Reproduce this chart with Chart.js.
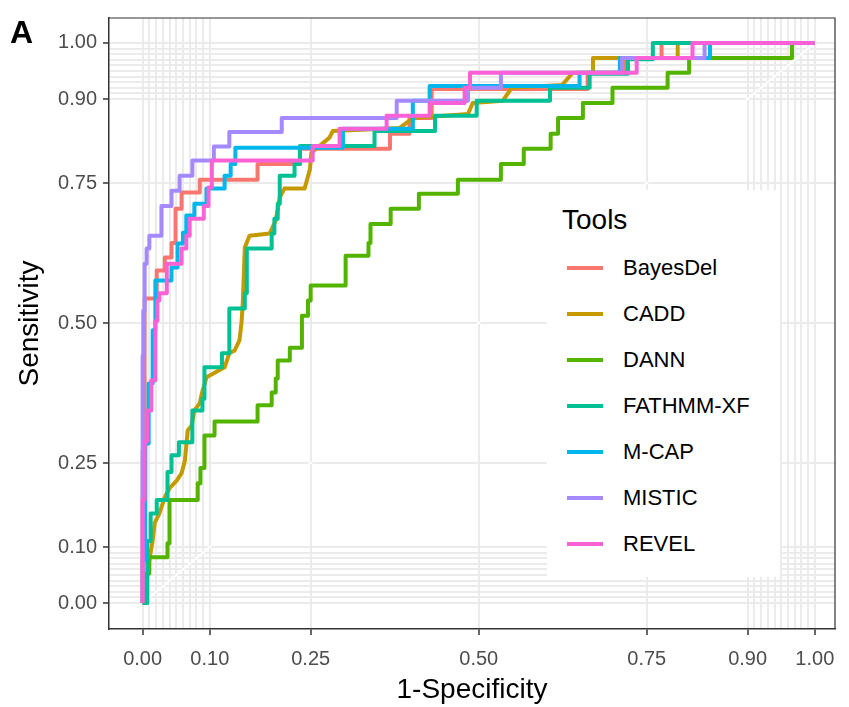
<!DOCTYPE html>
<html>
<head>
<meta charset="utf-8">
<script src="https://cdn.jsdelivr.net/npm/chart.js@4.4.1/dist/chart.umd.min.js"></script>
<style>
  body { margin: 0; background: #fff; }
  #wrap { position: relative; width: 849px; height: 707px; font-family: 'Liberation Sans', Arial, sans-serif; }
  #tag { position: absolute; left: 10px; top: 16px; font-size: 32px; font-weight: bold; line-height: 1; color: #000; }
  #legend { position: absolute; left: 547px; top: 190px; width: 233px; height: 387px; background: #fff; }
  #legend .title { position: absolute; left: 15px; top: 16px; font-size: 28px; line-height: 1; color: #000; }
  #legend .item { position: absolute; left: 20px; height: 46px; display: flex; align-items: center; }
  #legend .key { width: 36px; height: 4px; margin-right: 20px; }
  #legend .label { font-size: 22px; line-height: 1; color: #000; }
</style>
</head>
<body>
<div id="wrap">
  <canvas id="roc" width="849" height="707"></canvas>
  <div id="tag">A</div>
  <div id="legend"><div class="title">Tools</div></div>
</div>
<script>
// ROC curves of the seven predictors (1-specificity, sensitivity)

const toolNames = ['BayesDel', 'CADD', 'DANN', 'FATHMM-XF', 'M-CAP', 'MISTIC', 'REVEL'];
const toolColors = ['#F8766D', '#C49A00', '#53B400', '#00C094', '#00B6EB', '#A58AFF', '#FB61D7'];

const bayesdelFpr = [0, 0, 0.003, 0.003, 0.021, 0.021, 0.033, 0.033, 0.043, 0.043, 0.049, 0.049, 0.058, 0.058, 0.085, 0.085, 0.171, 0.171, 0.234, 0.234, 0.368, 0.368, 0.397, 0.397, 0.430, 0.430, 0.662, 0.662, 0.717, 0.717, 0.772, 0.772, 1];
const bayesdelTpr = [0, 0.273, 0.273, 0.544, 0.544, 0.594, 0.594, 0.617, 0.617, 0.643, 0.643, 0.704, 0.704, 0.733, 0.733, 0.756, 0.756, 0.784, 0.784, 0.811, 0.811, 0.838, 0.838, 0.866, 0.866, 0.918, 0.918, 0.947, 0.947, 0.973, 0.973, 1, 1];

const caddFpr = [0, 0.004, 0.006, 0.010, 0.015, 0.018, 0.025, 0.033, 0.040, 0.051, 0.058, 0.063, 0.067, 0.073, 0.077, 0.085, 0.088, 0.095, 0.122, 0.129, 0.137, 0.144, 0.147, 0.149, 0.152, 0.159, 0.189, 0.198, 0.204, 0.211, 0.241, 0.249, 0.251, 0.278, 0.283, 0.382, 0.402, 0.484, 0.491, 0.536, 0.549, 0.624, 0.640, 0.670, 0.670, 0.796, 0.796, 1];
const caddTpr = [0, 0, 0.041, 0.077, 0.112, 0.143, 0.160, 0.189, 0.205, 0.219, 0.232, 0.255, 0.308, 0.317, 0.344, 0.357, 0.374, 0.403, 0.421, 0.446, 0.451, 0.469, 0.499, 0.535, 0.635, 0.656, 0.660, 0.683, 0.724, 0.740, 0.740, 0.775, 0.804, 0.831, 0.843, 0.848, 0.866, 0.873, 0.893, 0.897, 0.920, 0.925, 0.947, 0.947, 0.973, 0.973, 1, 1];

const dannFpr = [0, 0.006, 0.006, 0.010, 0.010, 0.037, 0.037, 0.040, 0.040, 0.082, 0.082, 0.086, 0.086, 0.092, 0.092, 0.107, 0.107, 0.171, 0.171, 0.192, 0.192, 0.198, 0.198, 0.201, 0.201, 0.219, 0.219, 0.237, 0.237, 0.246, 0.246, 0.250, 0.250, 0.302, 0.302, 0.336, 0.336, 0.339, 0.339, 0.369, 0.369, 0.411, 0.411, 0.469, 0.469, 0.533, 0.533, 0.567, 0.567, 0.607, 0.607, 0.618, 0.618, 0.655, 0.655, 0.699, 0.699, 0.781, 0.781, 0.813, 0.813, 0.966, 0.966, 1];
const dannTpr = [0, 0, 0.053, 0.053, 0.082, 0.082, 0.107, 0.107, 0.184, 0.184, 0.214, 0.214, 0.241, 0.241, 0.299, 0.299, 0.324, 0.324, 0.353, 0.353, 0.376, 0.376, 0.401, 0.401, 0.433, 0.433, 0.456, 0.456, 0.513, 0.513, 0.540, 0.540, 0.567, 0.567, 0.620, 0.620, 0.643, 0.643, 0.677, 0.677, 0.704, 0.704, 0.731, 0.731, 0.756, 0.756, 0.784, 0.784, 0.811, 0.811, 0.838, 0.838, 0.866, 0.866, 0.893, 0.893, 0.920, 0.920, 0.947, 0.947, 0.973, 0.973, 1, 1];

const fathmmFpr = [0, 0.007, 0.007, 0.012, 0.012, 0.021, 0.021, 0.037, 0.037, 0.043, 0.043, 0.054, 0.054, 0.074, 0.074, 0.089, 0.089, 0.092, 0.092, 0.118, 0.118, 0.129, 0.129, 0.152, 0.152, 0.155, 0.155, 0.192, 0.192, 0.196, 0.196, 0.201, 0.201, 0.204, 0.204, 0.226, 0.226, 0.234, 0.234, 0.345, 0.345, 0.435, 0.435, 0.497, 0.497, 0.606, 0.606, 0.665, 0.665, 0.722, 0.722, 0.759, 0.759, 1];
const fathmmTpr = [0, 0, 0.111, 0.111, 0.160, 0.160, 0.184, 0.184, 0.234, 0.234, 0.264, 0.264, 0.287, 0.287, 0.344, 0.344, 0.365, 0.365, 0.421, 0.421, 0.446, 0.446, 0.526, 0.526, 0.553, 0.553, 0.633, 0.633, 0.660, 0.660, 0.686, 0.686, 0.713, 0.713, 0.763, 0.763, 0.784, 0.784, 0.816, 0.816, 0.843, 0.843, 0.870, 0.870, 0.897, 0.897, 0.920, 0.920, 0.945, 0.945, 0.971, 0.971, 1, 1];

const mcapFpr = [0, 0, 0.004, 0.004, 0.009, 0.009, 0.015, 0.015, 0.019, 0.019, 0.043, 0.043, 0.052, 0.052, 0.060, 0.060, 0.065, 0.065, 0.077, 0.077, 0.095, 0.095, 0.122, 0.122, 0.131, 0.131, 0.138, 0.138, 0.298, 0.298, 0.402, 0.402, 0.427, 0.427, 0.650, 0.650, 0.710, 0.710, 0.844, 0.844, 1];
const mcapTpr = [0, 0.077, 0.077, 0.285, 0.285, 0.392, 0.392, 0.487, 0.487, 0.576, 0.576, 0.599, 0.599, 0.642, 0.642, 0.661, 0.661, 0.692, 0.692, 0.713, 0.713, 0.740, 0.740, 0.763, 0.763, 0.784, 0.784, 0.813, 0.813, 0.847, 0.847, 0.897, 0.897, 0.923, 0.923, 0.947, 0.947, 0.973, 0.973, 1, 1];

const misticFpr = [0, 0, 0.001, 0.001, 0.003, 0.003, 0.006, 0.006, 0.010, 0.010, 0.028, 0.028, 0.043, 0.043, 0.055, 0.055, 0.074, 0.074, 0.106, 0.106, 0.129, 0.129, 0.207, 0.207, 0.378, 0.378, 0.484, 0.484, 0.533, 0.533, 0.713, 0.713, 0.836, 0.836, 1];
const misticTpr = [0, 0.442, 0.442, 0.522, 0.522, 0.606, 0.606, 0.633, 0.633, 0.656, 0.656, 0.709, 0.709, 0.736, 0.736, 0.763, 0.763, 0.790, 0.790, 0.815, 0.815, 0.841, 0.841, 0.866, 0.866, 0.897, 0.897, 0.920, 0.920, 0.947, 0.947, 0.973, 0.973, 1, 1];

const revelFpr = [0, 0, 0.003, 0.003, 0.007, 0.007, 0.013, 0.013, 0.019, 0.019, 0.022, 0.022, 0.025, 0.025, 0.036, 0.036, 0.058, 0.058, 0.065, 0.065, 0.070, 0.070, 0.091, 0.091, 0.098, 0.098, 0.103, 0.103, 0.253, 0.253, 0.293, 0.293, 0.363, 0.363, 0.427, 0.427, 0.479, 0.479, 0.487, 0.487, 0.735, 0.735, 0.818, 0.818, 1];
const revelTpr = [0, 0.184, 0.184, 0.289, 0.289, 0.344, 0.344, 0.398, 0.398, 0.504, 0.504, 0.540, 0.540, 0.553, 0.553, 0.606, 0.606, 0.633, 0.633, 0.656, 0.656, 0.686, 0.686, 0.709, 0.709, 0.742, 0.742, 0.790, 0.790, 0.816, 0.816, 0.847, 0.847, 0.870, 0.870, 0.893, 0.893, 0.920, 0.920, 0.947, 0.947, 0.973, 0.973, 1, 1];

// axis breaks: labelled ones plus the fine 0.01 grid near both ends
const labelBreaks = [0, 0.1, 0.25, 0.5, 0.75, 0.9, 1];
const fineBreaks = [0.01, 0.02, 0.03, 0.04, 0.05, 0.06, 0.07, 0.08, 0.09, 0.91, 0.92, 0.93, 0.94, 0.95, 0.96, 0.97, 0.98, 0.99];

const curves = [
  [bayesdelFpr, bayesdelTpr],
  [caddFpr, caddTpr],
  [dannFpr, dannTpr],
  [fathmmFpr, fathmmTpr],
  [mcapFpr, mcapTpr],
  [misticFpr, misticTpr],
  [revelFpr, revelTpr],
];

Chart.defaults.font.family = "'Liberation Sans', Arial, sans-serif";

const allBreaks = labelBreaks.concat(fineBreaks).sort((a, b) => a - b);

const datasets = curves.map(([fpr, tpr], i) => ({
  label: toolNames[i],
  data: fpr.map((x, k) => ({ x, y: tpr[k] })),
  borderColor: toolColors[i],
  borderWidth: 4,
  borderJoinStyle: 'round',
  pointRadius: 0,
  tension: 0,
  order: toolNames.length - i,
}));

// white chance line under the curves
datasets.push({
  label: 'diag',
  data: [{ x: 0, y: 0 }, { x: 1, y: 1 }],
  borderColor: '#ffffff',
  borderWidth: 2,
  pointRadius: 0,
  order: 99,
});

const frame = {
  id: 'frame',
  afterDraw(chart) {
    const { ctx, chartArea: a } = chart;
    ctx.save();
    ctx.strokeStyle = '#333333';
    ctx.lineWidth = 1.2;
    ctx.beginPath();
    ctx.moveTo(a.left, a.top);
    ctx.lineTo(a.right, a.top);
    ctx.lineTo(a.right, a.bottom);
    ctx.stroke();
    ctx.restore();
  }
};

function axisOpts(title, min, max, isX) {
  return {
    type: 'linear',
    min, max,
    afterBuildTicks: s => { s.ticks = allBreaks.map(v => ({ value: v })); },
    afterFit: s => { if (isX) s.height = 78; else s.width = 109; },
    ticks: {
      autoSkip: false,
      maxRotation: 0,
      minRotation: 0,
      color: '#4D4D4D',
      font: { size: 20 },
      padding: isX ? 12 : 6,
      callback: v => labelBreaks.includes(v) ? v.toFixed(2) : '',
    },
    grid: {
      color: '#EBEBEB',
      lineWidth: 2,
      tickLength: 6,
      tickWidth: 1.5,
      tickColor: c => (c.tick && labelBreaks.includes(c.tick.value)) ? '#333333' : 'rgba(0,0,0,0)',
    },
    border: { display: true, color: '#333333', width: 1.5 },
    title: {
      display: true,
      text: title,
      color: '#000',
      font: { size: 28 },
      padding: isX ? { top: 0, bottom: 0 } : { top: 13, bottom: 0 },
    },
  };
}

new Chart(document.getElementById('roc'), {
  type: 'line',
  data: { datasets },
  options: {
    responsive: false,
    animation: false,
    layout: { padding: { left: 0, right: 14, top: 17, bottom: 0 } },
    plugins: { legend: { display: false }, tooltip: { enabled: false } },
    scales: {
      x: axisOpts('1-Specificity', -0.05, 1.03, true),
      y: axisOpts('Sensitivity', -0.0463, 1.0446, false),
    },
  },
  plugins: [frame],
});

// legend box inside the panel
const legend = document.getElementById('legend');
toolNames.forEach((name, i) => {
  const row = document.createElement('div');
  row.className = 'item';
  row.style.top = (55 + 46 * i) + 'px';
  row.innerHTML = `<div class="key" style="background:${toolColors[i]}"></div><div class="label">${name}</div>`;
  legend.appendChild(row);
});
</script>
</body>
</html>
